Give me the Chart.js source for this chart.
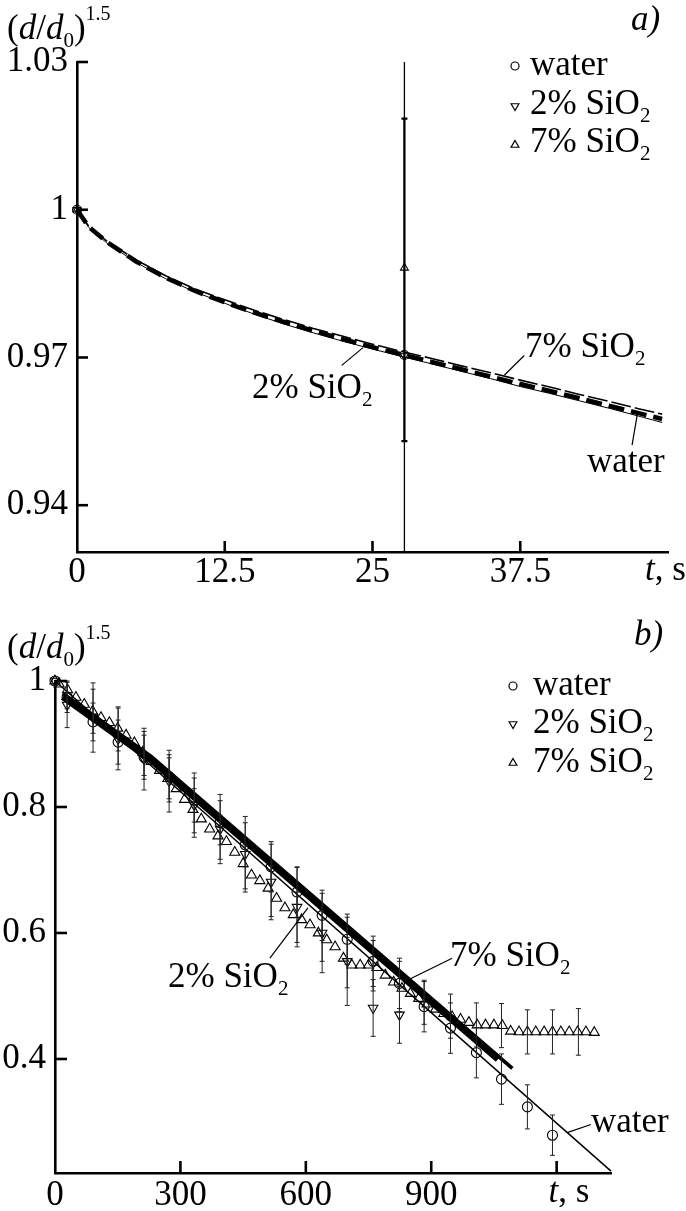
<!DOCTYPE html>
<html><head><meta charset="utf-8">
<script src="https://cdn.jsdelivr.net/npm/chart.js@4/dist/chart.umd.min.js"></script>
<style>
html,body{margin:0;padding:0;background:#fff;}
body{width:686px;height:1211px;position:relative;overflow:hidden;font-family:"Liberation Serif","DejaVu Serif",serif;color:#000;}
.pane{position:absolute;left:0;width:686px;}
canvas{display:block;}
.t{position:absolute;font-size:35px;line-height:35px;white-space:nowrap;}
.sb{font-size:21px;position:relative;top:8px;}
.sp{font-size:20px;position:relative;top:-19px;}
</style></head>
<body>
<div class="pane" style="top:0;height:600px"><canvas id="ca" width="686" height="600"></canvas></div>
<div class="pane" style="top:600px;height:611px"><canvas id="cb" width="686" height="611"></canvas></div>
<script>
// ---------- Panel a data ----------
const aTicksX = [0, 12.5, 25, 37.5, 50];
const aTickLabelsX = ['0', '12.5', '25', '37.5', ''];
const aTicksY = [0.94, 0.97, 1, 1.03];
const aTickLabelsY = ['0.94', '0.97', '1', '1.03'];
const aCurveT     = [0, 1, 2.5, 5, 7.5, 10, 12.5, 15, 17.5, 20, 22.5, 25, 27.5, 30, 32.5, 35, 37.5, 40, 42.5, 45, 47.5, 49.5];
const aCurveWater = [1.0, 0.9965, 0.9935, 0.9895, 0.9862, 0.9835, 0.9812, 0.9791, 0.9772, 0.9754, 0.9737, 0.9721, 0.9706, 0.9691, 0.9676, 0.9661, 0.9646, 0.9632, 0.9617, 0.9602, 0.9587, 0.9575];
const aCurveSi2   = [1.0, 0.9964, 0.9933, 0.9893, 0.9860, 0.9833, 0.9810, 0.9788, 0.9768, 0.9750, 0.9733, 0.9717, 0.9702, 0.9687, 0.9672, 0.9657, 0.9641, 0.9627, 0.9612, 0.9597, 0.9581, 0.9568];
const aCurveSi7   = [1.0, 0.9966, 0.9937, 0.9898, 0.9866, 0.9839, 0.9817, 0.9796, 0.9777, 0.9759, 0.9743, 0.9727, 0.9712, 0.9698, 0.9683, 0.9669, 0.9654, 0.9640, 0.9625, 0.9611, 0.9596, 0.9585];
const aWaterT = [0, 27.7];   const aWaterV = [1.0, 0.9705]; const aWaterLo = [null, 0.90]; const aWaterHi = [null, 1.05];
const aSi2T   = [0, 27.7];   const aSi2V   = [1.0, 0.9703];
const aSi7T   = [0, 27.7];   const aSi7V   = [1.0, 0.9882]; const aSi7Lo = [null, 0.953]; const aSi7Hi = [null, 1.0185];

// ---------- Panel b data ----------
const bTicksX = [0, 300, 600, 900, 1200];
const bTickLabelsX = ['0', '300', '600', '900', ''];
const bTicksY = [0.4, 0.6, 0.8, 1];
const bTickLabelsY = ['0.4', '0.6', '0.8', '1'];
const bWaterT = [0, 29, 91, 151, 213, 273, 333, 395, 455, 517, 579, 639, 699, 761, 824, 883, 946, 1008, 1068, 1130, 1190];
const bWaterV = [1.0, 0.975, 0.935, 0.903, 0.879, 0.848, 0.811, 0.775, 0.740, 0.705, 0.665, 0.628, 0.590, 0.555, 0.520, 0.483, 0.449, 0.410, 0.368, 0.324, 0.279];
const bWaterE = [0, 0.025, 0.03, 0.035, 0.035, 0.035, 0.035, 0.035, 0.035, 0.04, 0.04, 0.04, 0.04, 0.04, 0.04, 0.04, 0.04, 0.04, 0.04, 0.035, 0.032];
const bSi2T = [0, 29, 91, 151, 213, 273, 333, 395, 455, 517, 579, 639, 699, 761, 824];
const bSi2V = [1.0, 0.962, 0.942, 0.908, 0.876, 0.841, 0.803, 0.765, 0.725, 0.681, 0.641, 0.600, 0.555, 0.481, 0.470];
const bSi2E = [0, 0.036, 0.055, 0.049, 0.049, 0.049, 0.051, 0.055, 0.06, 0.06, 0.063, 0.063, 0.07, 0.045, 0.045];
const bSi7T = [0, 10, 30, 50, 70, 90, 110, 130, 150, 170, 190, 210, 230, 250, 270, 290, 310, 330, 350, 370, 390, 410, 430, 450, 470, 490, 510, 530, 550, 570, 590, 610, 630, 650, 670, 690, 710, 730, 750, 770, 790, 810, 830, 850, 870, 890, 910, 930, 950, 970, 990, 1010, 1030, 1050, 1070, 1090, 1110, 1130, 1150, 1170, 1190, 1210, 1230, 1250, 1270, 1290];
const bSi7V = [1.0, 0.995, 0.986, 0.974, 0.963, 0.952, 0.942, 0.934, 0.925, 0.914, 0.902, 0.887, 0.872, 0.858, 0.845, 0.829, 0.812, 0.796, 0.781, 0.765, 0.754, 0.745, 0.728, 0.710, 0.692, 0.683, 0.671, 0.655, 0.640, 0.629, 0.621, 0.613, 0.600, 0.589, 0.578, 0.560, 0.549, 0.549, 0.549, 0.545, 0.533, 0.522, 0.512, 0.504, 0.496, 0.487, 0.479, 0.472, 0.467, 0.463, 0.458, 0.454, 0.454, 0.454, 0.453, 0.444, 0.443, 0.443, 0.443, 0.443, 0.443, 0.443, 0.443, 0.443, 0.443, 0.442];
const bSi7ErrT = [29, 91, 151, 213, 273, 333, 395, 455, 517, 579, 639, 699, 761, 824, 883, 946, 1008, 1068, 1130, 1190, 1252];
const bSi7ErrC = [0.986, 0.952, 0.924, 0.885, 0.843, 0.794, 0.752, 0.705, 0.666, 0.625, 0.595, 0.553, 0.548, 0.515, 0.490, 0.468, 0.454, 0.453, 0.443, 0.443, 0.443];
const bSi7ErrE = [0.03, 0.035, 0.035, 0.035, 0.035, 0.035, 0.035, 0.035, 0.04, 0.04, 0.04, 0.04, 0.04, 0.04, 0.035, 0.035, 0.035, 0.035, 0.035, 0.035, 0.037];
const bFitWaterT = [0, 1330];        const bFitWaterV = [1.0, 0.222];
const bFitSi2T   = [19, 230, 1060];  const bFitSi2V   = [0.975, 0.875, 0.40];
const bFitSi7T   = [19, 230, 1094];  const bFitSi7V   = [0.980, 0.880, 0.385];

// ---------- helpers ----------
const FS = 35;
Chart.defaults.font.family = '"Liberation Serif","DejaVu Serif",serif';
Chart.defaults.font.size = FS;
Chart.defaults.color = '#000';
Chart.defaults.animation = false;
const pts = (ts, vs) => ts.map((t, i) => ({x: t, y: vs[i]}));

function scales(xr, yr, xT, xL, yT, yL, yW, xH, xPad, yPad) {
  return {
    x: {type: 'linear', min: xr[0], max: xr[1],
        afterBuildTicks: s => { s.ticks = xT.map(v => ({value: v})); },
        afterFit: s => { s.height = xH; },
        grid: {display: false, drawTicks: false},
        border: {display: true, color: '#000', width: 2.6},
        ticks: {autoSkip: false, maxRotation: 0, padding: xPad, color: '#000', font: {size: FS},
                callback: (v, i) => xL[i]}},
    y: {type: 'linear', min: yr[0], max: yr[1],
        afterBuildTicks: s => { s.ticks = yT.map(v => ({value: v})); },
        afterFit: s => { s.width = yW; },
        grid: {display: false, drawTicks: false},
        border: {display: true, color: '#000', width: 2.6},
        ticks: {autoSkip: false, padding: yPad, color: '#000', font: {size: FS},
                callback: (v, i) => yL[i]}}
  };
}

const inTicks = {
  id: 'inTicks',
  afterDraw(chart, args, o) {
    const ctx = chart.ctx, xs = chart.scales.x, ys = chart.scales.y, ca = chart.chartArea;
    ctx.save(); ctx.strokeStyle = '#000'; ctx.lineWidth = 2.6;
    o.x.forEach(v => { const p = xs.getPixelForValue(v); ctx.beginPath(); ctx.moveTo(p, ca.bottom); ctx.lineTo(p, ca.bottom - o.len); ctx.stroke(); });
    o.y.forEach(v => { const p = ys.getPixelForValue(v); ctx.beginPath(); ctx.moveTo(ca.left, p); ctx.lineTo(ca.left + o.len, p); ctx.stroke(); });
    ctx.restore();
  }
};

const errBars = {
  id: 'errBars',
  afterDatasetsDraw(chart) {
    const ctx = chart.ctx, xs = chart.scales.x, ys = chart.scales.y;
    chart.data.datasets.forEach(ds => {
      if (!ds.errT) return;
      ctx.save(); ctx.strokeStyle = ds.errColor || '#000'; ctx.lineWidth = ds.errWidth || 1;
      ds.errT.forEach((t, i) => {
        const lo = ds.errLo[i], hi = ds.errHi[i];
        if (lo == null || hi == null || lo === hi) return;
        const px = xs.getPixelForValue(t);
        const p1 = ys.getPixelForValue(Math.max(lo, ys.min)), p2 = ys.getPixelForValue(Math.min(hi, ys.max));
        const c = ds.capHalf || 2.5;
        ctx.beginPath(); ctx.moveTo(px, p1); ctx.lineTo(px, p2);
        if (lo >= ys.min) { ctx.moveTo(px - c, p1); ctx.lineTo(px + c, p1); }
        if (hi <= ys.max) { ctx.moveTo(px - c, p2); ctx.lineTo(px + c, p2); }
        ctx.stroke();
      });
      ctx.restore();
    });
  }
};

const pointers = {
  id: 'pointers',
  afterDraw(chart, args, o) {
    const ctx = chart.ctx, xs = chart.scales.x, ys = chart.scales.y;
    ctx.save(); ctx.strokeStyle = '#000'; ctx.lineWidth = 1.2;
    o.lines.forEach(l => {
      ctx.beginPath();
      ctx.moveTo(xs.getPixelForValue(l[0]), ys.getPixelForValue(l[1]));
      ctx.lineTo(xs.getPixelForValue(l[2]), ys.getPixelForValue(l[3]));
      ctx.stroke();
    });
    ctx.restore();
  }
};

const legendMarks = {
  id: 'legendMarks',
  afterDraw(chart, args, o) {
    const ctx = chart.ctx;
    o.items.forEach(it => {
      ctx.save(); ctx.strokeStyle = '#000'; ctx.fillStyle = 'rgba(255,255,255,0)'; ctx.lineWidth = 1.2;
      Chart.helpers.drawPoint(ctx, {pointStyle: it.s, rotation: it.r || 0, radius: it.rad, borderWidth: 1.2}, it.x, it.y);
      ctx.restore();
    });
  }
};

const mk = (ts, vs, style, rot, rad, extra) => Object.assign({
  data: pts(ts, vs), showLine: false, pointStyle: style, rotation: rot, pointRadius: rad,
  pointBorderColor: '#000', pointBackgroundColor: 'rgba(255,255,255,0)', pointBorderWidth: 1.1, clip: false
}, extra || {});
const ln = (ts, vs, w, dash) => ({
  data: pts(ts, vs), showLine: true, pointRadius: 0, borderColor: '#000', borderWidth: w,
  borderDash: dash || [], tension: 0, clip: false
});

// ---------- Chart a ----------
new Chart(document.getElementById('ca'), {
  type: 'scatter',
  data: {datasets: [
    Object.assign(mk(aWaterT, aWaterV, 'circle', 0, 4.5), {errT: aWaterT, errLo: aWaterLo, errHi: aWaterHi, errWidth: 1.3}),
    mk(aSi2T, aSi2V, 'triangle', 180, 4.5),
    Object.assign(mk(aSi7T, aSi7V, 'triangle', 0, 4.5), {errT: aSi7T, errLo: aSi7Lo, errHi: aSi7Hi, errWidth: 2.2, capHalf: 3}),
    ln(aCurveT, aCurveWater, 4.6, [16, 7]),
    ln(aCurveT, aCurveSi7, 1.6, [20, 4]),
    ln(aCurveT, aCurveSi2, 1.0)
  ]},
  options: {
    responsive: false, animation: false,
    layout: {autoPadding: false, padding: {left: 0, top: 62, right: 18, bottom: 0}},
    scales: scales([0, 50], [0.9305, 1.03], aTicksX, aTickLabelsX, aTicksY, aTickLabelsY, 77, 48, 0, 9),
    plugins: {
      legend: {display: false}, tooltip: {enabled: false},
      inTicks: {x: [12.5, 25, 37.5], y: [0.94, 0.97, 1, 1.03], len: 11},
      pointers: {lines: [[36.15, 0.9664, 37.84, 0.9704], [24.2, 0.9720, 22.4, 0.9684], [47.4, 0.9584, 46.96, 0.9522]]},
      legendMarks: {items: [{s: 'circle', x: 515, y: 66, rad: 4}, {s: 'triangle', r: 180, x: 515, y: 106, rad: 4.5}, {s: 'triangle', x: 515, y: 145, rad: 4.5}]}
    }
  },
  plugins: [inTicks, errBars, pointers, legendMarks]
});

// ---------- Chart b ----------
const pm = (v, e, s) => v.map((x, i) => x + s * e[i]);
new Chart(document.getElementById('cb'), {
  type: 'scatter',
  data: {datasets: [
    Object.assign(mk(bWaterT, bWaterV, 'circle', 0, 5), {errT: bWaterT, errLo: pm(bWaterV, bWaterE, -1), errHi: pm(bWaterV, bWaterE, 1), errColor: '#222'}),
    Object.assign(mk(bSi2T, bSi2V, 'triangle', 180, 5.5), {errT: bSi2T, errLo: pm(bSi2V, bSi2E, -1), errHi: pm(bSi2V, bSi2E, 1), errColor: '#222'}),
    mk(bSi7T, bSi7V, 'triangle', 0, 5.8),
    Object.assign(ln([], []), {errT: bSi7ErrT, errLo: pm(bSi7ErrC, bSi7ErrE, -1), errHi: pm(bSi7ErrC, bSi7ErrE, 1), errColor: '#222'}),
    ln(bFitSi7T, bFitSi7V, 3.8),
    ln(bFitSi2T, bFitSi2V, 7),
    ln(bFitWaterT, bFitWaterV, 1.5)
  ]},
  options: {
    responsive: false, animation: false,
    layout: {autoPadding: false, padding: {left: 0, top: 81, right: 75, bottom: 0}},
    scales: scales([0, 1330], [0.219, 1.0], bTicksX, bTickLabelsX, bTicksY, bTickLabelsY, 55, 38, 2, 9),
    plugins: {
      legend: {display: false}, tooltip: {enabled: false},
      inTicks: {x: [300, 600, 900, 1200], y: [0.4, 0.6, 0.8, 1], len: 12},
      pointers: {lines: [[849, 0.527, 950, 0.560], [605, 0.640, 514, 0.560], [1225, 0.283, 1282, 0.296]]},
      legendMarks: {items: [{s: 'circle', x: 513, y: 86, rad: 4}, {s: 'triangle', r: 180, x: 513, y: 124, rad: 4.5}, {s: 'triangle', x: 513, y: 163, rad: 4.5}]}
    }
  },
  plugins: [inTicks, errBars, pointers, legendMarks]
});

// ---------- text ----------
const SI2 = '2% SiO<span class="sb">2</span>';
const SI7 = '7% SiO<span class="sb">2</span>';
const TITLE = '(<i>d</i>/<i>d</i><span class="sb">0</span>)<span class="sp">1.5</span>';
const TS = '<i>t</i>, s';
function addText(html, x, bl, align) {
  const d = document.createElement('div'); d.className = 't'; d.innerHTML = html;
  d.style.top = (bl - 0.8375 * FS) + 'px'; d.style.left = '0px';
  document.body.appendChild(d);
  const w = d.offsetWidth;
  d.style.left = (align === 'right' ? x - w : align === 'center' ? x - w / 2 : x) + 'px';
}
// panel a
addText(TITLE, 7, 39, 'left');
addText('<i>a)</i>', 660, 30, 'right');
addText('water', 530, 75, 'left');
addText(SI2, 530, 114, 'left');
addText(SI7, 530, 152, 'left');
addText(SI2, 252, 398, 'left');
addText(SI7, 525, 357, 'left');
addText('water', 587, 472, 'left');
addText(TS, 686, 580, 'right');
// panel b
addText(TITLE, 7, 658, 'left');
addText('<i>b)</i>', 663, 645, 'right');
addText('water', 533, 695, 'left');
addText(SI2, 533, 733, 'left');
addText(SI7, 533, 772, 'left');
addText(SI7, 450, 966, 'left');
addText(SI2, 288, 987, 'right');
addText('water', 591, 1132, 'left');
addText(TS, 569, 1202, 'center');
</script>
</body></html>
